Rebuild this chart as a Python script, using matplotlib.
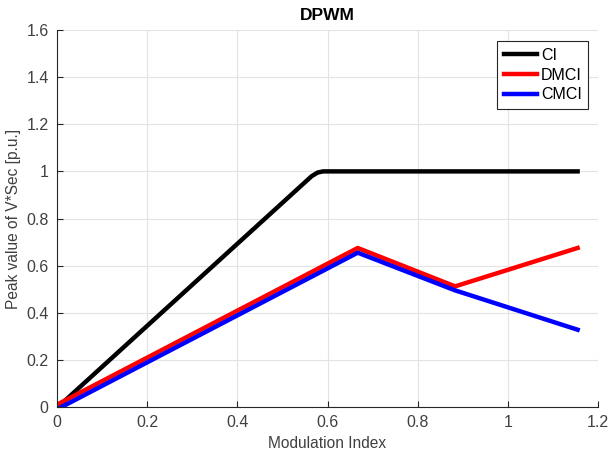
import matplotlib.pyplot as plt
import numpy as np

plt.rcParams["font.family"] = ["Liberation Sans", "DejaVu Sans"]

# values
m_ci = [0.005, 0.565, 0.578, 0.59, 1.1547]
v_ci = [0.005, 0.98, 0.995, 1.0, 1.0]

m_dmci = [0.0, 0.667, 0.883, 1.1547]
v_dmci = [0.01, 0.675, 0.512, 0.675]

m_cmci = [0.01, 0.667, 0.883, 1.1547]
v_cmci = [0.0, 0.655, 0.495, 0.328]

fig = plt.figure(figsize=(6.09, 4.55), dpi=100)
ax = fig.add_axes([0.0936, 0.1055, 0.8884, 0.8285])

ax.plot(m_ci, v_ci, color="black", lw=3.2, label="CI", solid_joinstyle="round")
ax.plot(m_dmci, v_dmci, color="red", lw=3.2, label="DMCI", solid_joinstyle="round")
ax.plot(m_cmci, v_cmci, color="blue", lw=3.2, label="CMCI", solid_joinstyle="round")

ax.set_xlim(0, 1.2)
ax.set_ylim(0, 1.6)
ax.set_xticks(np.arange(0, 1.21, 0.2))
ax.set_yticks(np.arange(0, 1.61, 0.2))
ax.set_xticklabels(["0", "0.2", "0.4", "0.6", "0.8", "1", "1.2"])
ax.set_yticklabels(["0", "0.2", "0.4", "0.6", "0.8", "1", "1.2", "1.4", "1.6"])
ax.grid(True, color="#e3e3e3", lw=0.8)
ax.set_axisbelow(True)
for s in ["top", "right"]:
    ax.spines[s].set_visible(False)
for s in ["left", "bottom"]:
    ax.spines[s].set_color("#262626")
    ax.spines[s].set_linewidth(0.8)
ax.tick_params(direction="in", length=4, colors="#262626", labelcolor="#404040",
               labelsize=11.5, pad=6)

ax.set_xlabel("Modulation Index", fontsize=11.2, color="#404040")
ax.set_ylabel("Peak value of V*Sec [p.u.]", fontsize=11.2, color="#404040")
ax.set_title("DPWM", fontsize=12.5, fontweight="bold", pad=7)

leg = ax.legend(loc="upper right", bbox_to_anchor=(0.982, 0.97), fancybox=False,
                edgecolor="#262626", framealpha=1, fontsize=11.5, handlelength=2.1,
                handletextpad=0.25, borderpad=0.4, labelspacing=0.3, borderaxespad=0)
leg.get_frame().set_linewidth(0.8)

fig.savefig("out.png", dpi=100)
